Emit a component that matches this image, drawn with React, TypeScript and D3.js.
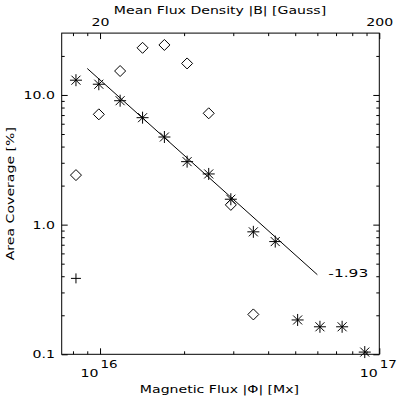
import { useEffect, useRef } from "react";
import * as d3 from "d3";

// flux bins in units of 1e16 Mx
const fluxBins = [0.82, 0.99, 1.18, 1.42, 1.7, 2.05, 2.45, 2.94, 3.54, 4.24, 5.1, 6.13, 7.36, 8.87];
// area coverage [%] per series
const starArea = [13.0, 12.1, 9.03, 6.68, 4.74, 3.06, 2.46, 1.57, 0.88, 0.74, 0.184, 0.163, 0.163, 0.104];
const diamondArea = [2.41, 7.09, 15.3, 23.1, 24.3, 17.5, 7.22, 1.42, 0.203];
const plusArea = [0.385];

// power law fit
const fitFlux = [0.9, 6.0];
const fitStartArea = 16.0;
const fitSlope = -1.93;
const fitLabel = "-1.93";

// ticks
const yMajor = [0.1, 1, 10];
const yMajorLabels = ["0.1", "1.0", "10.0"];
const yMinor = [0.2, 0.3, 0.4, 0.5, 0.6, 0.7, 0.8, 0.9, 2, 3, 4, 5, 6, 7, 8, 9, 20];
const xMajor = [1e16, 1e17];
const xMajorExp = ["16", "17"];
const xMinor = [8e15, 9e15, 2e16, 3e16, 4e16, 5e16, 6e16, 7e16, 8e16, 9e16];
const bMajor = [20, 200];
const bMinor = [16, 18, 40, 60, 80, 100, 120, 140, 160, 180];
const fluxPerGauss = 5e14;

const W = 397;
const H = 399;
const FONT = "'DejaVu Sans', sans-serif";
const STRETCH = 1.28;

const starPath = "M-6,0H6M0,-6V6M-4.5,-4.5L4.5,4.5M-4.5,4.5L4.5,-4.5";
const diamondPath = "M0,-5.5L5.5,0L0,5.5L-5.5,0Z";
const plusPath = "M-5,0H5M0,-5V5";

// widen the glyphs a bit, the original uses a broad vector font
function stretch(sel: any, k = STRETCH) {
  sel.each(function (this: SVGTextElement) {
    const w = this.getComputedTextLength();
    d3.select(this).attr("textLength", w * k).attr("lengthAdjust", "spacingAndGlyphs");
  });
}

export default function App() {
  const ref = useRef<SVGSVGElement>(null);

  useEffect(() => {
    const svg = d3.select(ref.current);
    svg.selectAll("*").remove();

    const left = 61.7, right = 379.3, top = 33.1, bottom = 354.3;
    const x = d3.scaleLog().domain([7.29e15, 1e17]).range([left, right]);
    const xTop = d3
      .scaleLog()
      .domain([7.29e15 / fluxPerGauss, 1e17 / fluxPerGauss])
      .range([left, right]);
    const y = d3.scaleLog().domain([0.1, 30]).range([bottom, top]);

    const g = svg.append("g").attr("stroke", "#000").attr("fill", "none");

    // frame
    g.append("rect")
      .attr("x", left)
      .attr("y", top)
      .attr("width", right - left)
      .attr("height", bottom - top)
      .attr("stroke-width", 1);

    // inward ticks via d3 axes
    const addAxis = (axis: any, tr: string) => {
      const a = svg.append("g").attr("transform", tr).call(axis);
      a.select(".domain").remove();
      a.selectAll("text").remove();
      a.selectAll("line").attr("stroke", "#000");
    };
    addAxis(d3.axisBottom(x).tickValues(xMajor).tickSize(-6), `translate(0,${bottom})`);
    addAxis(d3.axisBottom(x).tickValues(xMinor).tickSize(-3), `translate(0,${bottom})`);
    addAxis(d3.axisTop(xTop).tickValues(bMajor).tickSize(-6), `translate(0,${top})`);
    addAxis(d3.axisTop(xTop).tickValues(bMinor).tickSize(-3), `translate(0,${top})`);
    addAxis(d3.axisLeft(y).tickValues(yMajor).tickSize(-6), `translate(${left},0)`);
    addAxis(d3.axisLeft(y).tickValues(yMinor).tickSize(-3), `translate(${left},0)`);
    addAxis(d3.axisRight(y).tickValues(yMajor).tickSize(-6), `translate(${right},0)`);
    addAxis(d3.axisRight(y).tickValues(yMinor).tickSize(-3), `translate(${right},0)`);

    const txt = svg
      .append("g")
      .attr("font-family", FONT)
      .attr("font-size", 11)
      .attr("fill", "#000");

    // y tick labels
    stretch(
      txt
        .selectAll(".ylab")
        .data(yMajor)
        .enter()
        .append("text")
        .attr("x", 55)
        .attr("y", (d) => y(d) + 4)
        .attr("text-anchor", "end")
        .text((d, i) => yMajorLabels[i])
    );

    // bottom labels 10^n
    stretch(
      txt
        .selectAll(".xbase")
        .data(xMajor)
        .enter()
        .append("text")
        .attr("x", (d) => x(d) - 1.5)
        .attr("y", 376.7)
        .attr("text-anchor", "end")
        .text("10")
    );
    stretch(
      txt
        .selectAll(".xexp")
        .data(xMajor)
        .enter()
        .append("text")
        .attr("x", (d) => x(d) + 0.5)
        .attr("y", 368.3)
        .attr("font-size", 10.5)
        .text((d, i) => xMajorExp[i])
    );

    // top labels
    stretch(
      txt
        .selectAll(".blab")
        .data(bMajor)
        .enter()
        .append("text")
        .attr("x", (d) => xTop(d) + 0.5)
        .attr("y", 26)
        .attr("text-anchor", "middle")
        .text((d) => String(d))
    );

    // axis titles
    stretch(
      txt
        .append("text")
        .attr("x", 220)
        .attr("y", 14)
        .attr("text-anchor", "middle")
        .text("Mean Flux Density |B| [Gauss]")
    );
    stretch(
      txt
        .append("text")
        .attr("x", 219.5)
        .attr("y", 393.3)
        .attr("text-anchor", "middle")
        .text("Magnetic Flux |\u03A6| [Mx]")
    );
    stretch(
      txt
        .append("text")
        .attr("transform", `translate(13.5,${(top + bottom) / 2}) rotate(-90)`)
        .attr("text-anchor", "middle")
        .text("Area Coverage [%]")
    );

    // fit line
    const fitArea = fitFlux.map(
      (f) => fitStartArea * Math.pow(f / fitFlux[0], fitSlope)
    );
    const line = d3
      .line<number>()
      .x((d) => x(d * 1e16))
      .y((d, i) => y(fitArea[i]));
    g.append("path").attr("d", line(fitFlux)).attr("stroke-width", 1);
    stretch(
      txt
        .append("text")
        .attr("x", x(fitFlux[1] * 1e16) + 11)
        .attr("y", y(fitArea[1]) + 2)
        .text(fitLabel),
      1.4
    );

    // markers
    const mark = (vals: number[], path: string) =>
      g
        .append("g")
        .selectAll("path")
        .data(vals)
        .enter()
        .append("path")
        .attr("d", path)
        .attr("stroke-width", 1)
        .attr(
          "transform",
          (d, i) => `translate(${x(fluxBins[i] * 1e16)},${y(d)})`
        );
    mark(starArea, starPath);
    mark(diamondArea, diamondPath);
    mark(plusArea, plusPath);
  }, []);

  return (
    <svg
      ref={ref}
      width={W}
      height={H}
      style={{ position: "absolute", left: 0, top: 0, background: "#fff" }}
    />
  );
}
